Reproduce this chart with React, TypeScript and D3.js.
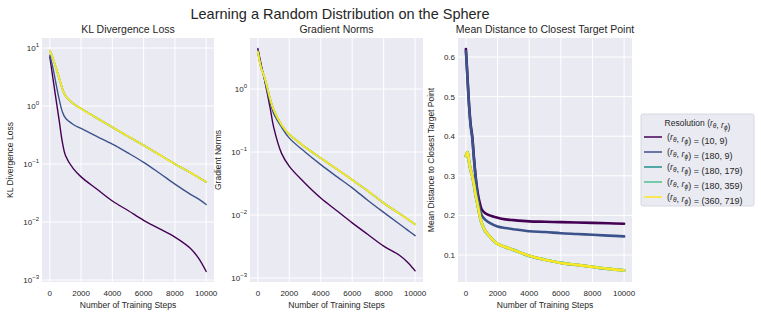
import React from "react";
import * as d3 from "d3";

const logSteps = [0, 200, 400, 600, 800, 1000, 1500, 2000, 3000, 4000, 5000, 6000, 7000, 8000, 9000, 9500, 10000];
const distSteps = [0, 100, 200, 300, 400, 500, 600, 700, 800, 900, 1000, 1200, 1500, 2000, 2500, 3000, 4000, 5000, 6000, 7000, 8000, 9000, 10000];

const resolutions = ["(10, 9)", "(180, 9)", "(180, 179)", "(180, 359)", "(360, 719)"];
const colors = ["#440154", "#3b528b", "#21918c", "#4cc08f", "#fde725"];

const klLoss = [
  [7, 3.0, 1.29, 0.56, 0.24, 0.14, 0.083, 0.06, 0.037, 0.023, 0.0158, 0.0107, 0.0077, 0.0055, 0.0035, 0.0024, 0.0014],
  [7.5, 4.5, 2.4, 1.3, 0.8, 0.62, 0.48, 0.41, 0.3, 0.22, 0.155, 0.107, 0.07, 0.045, 0.03, 0.025, 0.02],
  [9, 6.6, 4.5, 3.0, 2.0, 1.5, 1.1, 0.9, 0.62, 0.43, 0.3, 0.21, 0.145, 0.1, 0.071, 0.059, 0.049],
  [9, 6.6, 4.5, 3.0, 2.0, 1.5, 1.1, 0.9, 0.62, 0.43, 0.3, 0.21, 0.145, 0.1, 0.071, 0.059, 0.049],
  [9, 6.6, 4.5, 3.0, 2.0, 1.5, 1.1, 0.9, 0.62, 0.43, 0.3, 0.21, 0.145, 0.1, 0.071, 0.059, 0.049],
];

const gradNorms = [
  [4.4, 2.5, 1.5, 0.85, 0.47, 0.25, 0.096, 0.059, 0.032, 0.0186, 0.0118, 0.0075, 0.0049, 0.0032, 0.0023, 0.0018, 0.0013],
  [4.2, 2.4, 1.5, 0.9, 0.59, 0.41, 0.25, 0.166, 0.1, 0.063, 0.041, 0.027, 0.017, 0.011, 0.0072, 0.0058, 0.0047],
  [3.9, 2.2, 1.6, 1.05, 0.67, 0.47, 0.27, 0.19, 0.12, 0.08, 0.054, 0.036, 0.024, 0.0155, 0.0105, 0.0087, 0.0071],
  [3.9, 2.2, 1.6, 1.05, 0.67, 0.47, 0.27, 0.19, 0.12, 0.08, 0.054, 0.036, 0.024, 0.0155, 0.0105, 0.0087, 0.0071],
  [3.9, 2.2, 1.6, 1.05, 0.67, 0.47, 0.27, 0.19, 0.12, 0.08, 0.054, 0.036, 0.024, 0.0155, 0.0105, 0.0087, 0.0071],
];

const meanDist = [
  [0.62, 0.55, 0.48, 0.43, 0.4, 0.35, 0.305, 0.27, 0.245, 0.228, 0.215, 0.206, 0.2, 0.194, 0.19, 0.188, 0.185, 0.184, 0.183, 0.182, 0.181, 0.18, 0.179],
  [0.615, 0.545, 0.475, 0.425, 0.395, 0.345, 0.3, 0.262, 0.233, 0.212, 0.2, 0.19, 0.181, 0.172, 0.168, 0.165, 0.16, 0.158, 0.155, 0.153, 0.151, 0.149, 0.147],
  [0.35, 0.36, 0.335, 0.315, 0.3, 0.28, 0.255, 0.235, 0.215, 0.195, 0.18, 0.162, 0.147, 0.128, 0.12, 0.113, 0.098, 0.088, 0.08, 0.075, 0.07, 0.065, 0.061],
  [0.35, 0.36, 0.335, 0.315, 0.3, 0.28, 0.255, 0.235, 0.215, 0.195, 0.18, 0.162, 0.147, 0.128, 0.12, 0.113, 0.098, 0.088, 0.08, 0.075, 0.07, 0.065, 0.061],
  [0.35, 0.36, 0.335, 0.315, 0.3, 0.28, 0.255, 0.235, 0.215, 0.195, 0.18, 0.162, 0.147, 0.128, 0.12, 0.113, 0.098, 0.088, 0.08, 0.075, 0.07, 0.065, 0.061],
];

const xTicks = [0, 2000, 4000, 6000, 8000, 10000];
const klTicks = [10, 1, 0.1, 0.01, 0.001];
const gradTicks = [1, 0.1, 0.01, 0.001];
const distTicks = [0.1, 0.2, 0.3, 0.4, 0.5, 0.6];

const FONT = "'Liberation Sans', Arial, sans-serif";
const BG = "#eaeaf2";
const TEXT = "#262626";

const top = 38;
const bottom = 282;

const LogLabel = ({ v }) => {
  const e = Math.round(Math.log10(v));
  return (
    <>
      10
      <tspan dy={-4} fontSize={6}>{e < 0 ? "\u2212" + -e : e}</tspan>
    </>
  );
};

const Panel = ({ id, left, right, x, y, steps, series, yTicks, log, title, ylabel, ylabelX, width }) => {
  const line = d3
    .line()
    .x((d) => x(d[0]))
    .y((d) => y(d[1]))
    .curve(d3.curveCatmullRom.alpha(0.5));
  return (
    <g>
      <defs>
        <clipPath id={id}>
          <rect x={left} y={top} width={right - left} height={bottom - top} />
        </clipPath>
      </defs>
      <rect x={left} y={top} width={right - left} height={bottom - top} fill={BG} />
      {xTicks.map((t) => (
        <line key={"gx" + t} x1={x(t)} x2={x(t)} y1={top} y2={bottom} stroke="#fff" strokeWidth={1} />
      ))}
      {yTicks.map((t) => (
        <line key={"gy" + t} x1={left} x2={right} y1={y(t)} y2={y(t)} stroke="#fff" strokeWidth={1} />
      ))}
      <g clipPath={`url(#${id})`}>
        {series.map((vals, i) => (
          <path
            key={i}
            d={line(steps.map((s, j) => [s, vals[j]]))}
            fill="none"
            stroke={colors[i]}
            strokeWidth={width[i]}
            strokeLinejoin="round"
            strokeLinecap="round"
          />
        ))}
      </g>
      {xTicks.map((t) => (
        <text key={"tx" + t} x={x(t)} y={296} textAnchor="middle" fontSize={8} fill={TEXT}>
          {t}
        </text>
      ))}
      {yTicks.map((t) => (
        <text key={"ty" + t} x={left - 3} y={y(t) + 3} textAnchor="end" fontSize={8} fill={TEXT}>
          {log ? <LogLabel v={t} /> : d3.format(".1f")(t)}
        </text>
      ))}
      <text x={(left + right) / 2} y={308} textAnchor="middle" fontSize={8.5} fill={TEXT}>
        Number of Training Steps
      </text>
      <text
        transform={`translate(${ylabelX},${(top + bottom) / 2}) rotate(-90)`}
        textAnchor="middle"
        fontSize={8.5}
        fill={TEXT}
      >
        {ylabel}
      </text>
      <text x={(left + right) / 2} y={33} textAnchor="middle" fontSize={10.5} fill={TEXT}>
        {title}
      </text>
    </g>
  );
};

const RLabel = ({ sub }) => (
  <>
    <tspan fontStyle="italic">r</tspan>
    <tspan fontSize={6.5} dy={2} fontStyle="italic">{sub}</tspan>
    <tspan dy={-2}></tspan>
  </>
);

export default function App() {
  const x1 = d3.scaleLinear().domain([-500, 10500]).range([42, 214]);
  const y1 = d3.scaleLog().domain([0.001, 10]).range([280, 48]);
  const x2 = d3.scaleLinear().domain([-500, 10500]).range([250, 423]);
  const y2 = d3.scaleLog().domain([0.001, 1]).range([278, 89]);
  const x3 = d3.scaleLinear().domain([-500, 10500]).range([458, 632]);
  const y3 = d3.scaleLinear().domain([0.1, 0.6]).range([255, 57]);

  const thin = [1.4, 1.4, 1.6, 1.6, 1.8];
  const thick = [2.6, 2.6, 2.8, 2.8, 2.6];

  return (
    <svg width={761} height={315} style={{ position: "absolute", left: 0, top: 0, fontFamily: FONT }}>
      <rect width={761} height={315} fill="#fff" />
      <text x={340} y={19} textAnchor="middle" fontSize={14.5} fill={TEXT}>
        Learning a Random Distribution on the Sphere
      </text>
      <Panel
        id="c1"
        left={42}
        right={214}
        x={x1}
        y={y1}
        steps={logSteps}
        series={klLoss}
        yTicks={klTicks}
        log
        title="KL Divergence Loss"
        ylabel="KL Divergence Loss"
        ylabelX={13}
        width={thin}
      />
      <Panel
        id="c2"
        left={250}
        right={423}
        x={x2}
        y={y2}
        steps={logSteps}
        series={gradNorms}
        yTicks={gradTicks}
        log
        title="Gradient Norms"
        ylabel="Gradient Norms"
        ylabelX={221}
        width={thin}
      />
      <Panel
        id="c3"
        left={458}
        right={632}
        x={x3}
        y={y3}
        steps={distSteps}
        series={meanDist}
        yTicks={distTicks}
        log={false}
        title="Mean Distance to Closest Target Point"
        ylabel="Mean Distance to Closest Target Point"
        ylabelX={434}
        width={thick}
      />
      <g>
        <rect x={641} y={114} width={113} height={92} rx={2} fill={BG} stroke="#d0d0d8" strokeWidth={0.8} />
        <text x={697.5} y={126} textAnchor="middle" fontSize={8.5} fill={TEXT}>
          Resolution (<RLabel sub={"\u03b8"} />, <RLabel sub={"\u03d5"} />)
        </text>
        {resolutions.map((r, i) => (
          <g key={r}>
            <line x1={644} x2={662} y1={137 + i * 15} y2={137 + i * 15} stroke={colors[i]} strokeWidth={1.5} />
            <text x={667} y={140 + i * 15} fontSize={9} fill={TEXT}>
              (<RLabel sub={"\u03b8"} />, <RLabel sub={"\u03d5"} />) = {r}
            </text>
          </g>
        ))}
      </g>
    </svg>
  );
}
